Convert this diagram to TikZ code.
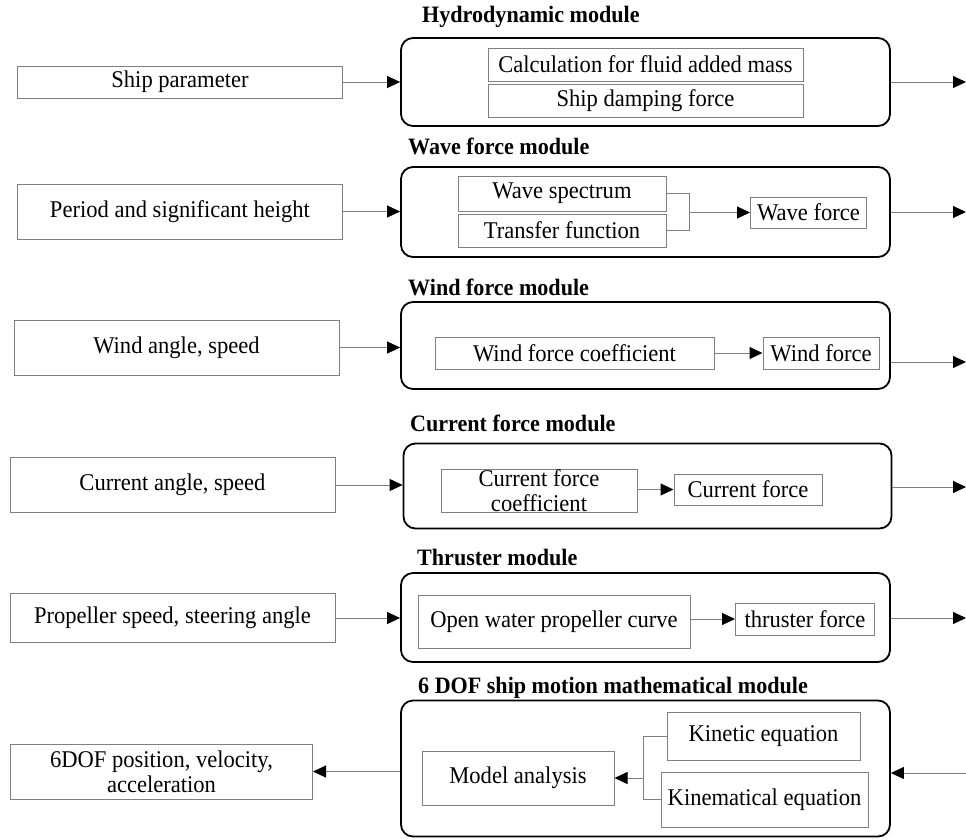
\documentclass[tikz,border=0pt]{standalone}
\usepackage{fontspec}
\setmainfont{Liberation Serif}[FakeStretch=0.94]
\usetikzlibrary{arrows.meta}
\definecolor{lgray}{HTML}{808080}
\begin{document}
\begin{tikzpicture}[x=1pt,y=-1pt,
  font=\fontsize{24}{25}\selectfont,
  ibox/.style={draw=lgray, line width=1pt, inner sep=0pt, align=center},
  obox/.style={draw=black, line width=1.8pt, rounded corners=12pt, inner sep=0pt},
  ttl/.style={anchor=west, inner sep=0pt, font=\fontsize{23.5}{25}\selectfont\bfseries},
  line/.style={draw=lgray, line width=1pt},
  conn/.style={line, -{Triangle[length=13pt,width=12pt,color=black]}}]
\useasboundingbox (0,0) rectangle (966,839);
% ---------- Hydrodynamic module ----------
\node[ttl] (t1) at (422,17) {Hydrodynamic module};
\node[obox, minimum width=489, minimum height=88] (hyd) at (645.5,82) {};
\node[ibox, minimum width=315, minimum height=33] (calc) at (645.5,64.5) {Calculation for fluid added mass};
\node[ibox, minimum width=315, minimum height=33] (damp) at (645.5,100.5) {Ship damping force};
\node[ibox, minimum width=325, minimum height=32] (sp) at (180,82) {Ship parameter};
\coordinate (o1) at (966,82);
\draw[conn] (sp.east) -- (hyd.west);
\draw[conn] (hyd.east) -- (o1);
% ---------- Wave force module ----------
\node[ttl] (t2) at (408,146) {Wave force module};
\node[obox, minimum width=489, minimum height=90] (wav) at (645.5,212) {};
\node[ibox, minimum width=208, minimum height=35] (spec) at (562,193.5) {Wave spectrum};
\node[ibox, minimum width=208, minimum height=33] (trans) at (562,230.5) {Transfer function};
\node[ibox, minimum width=116, minimum height=31] (wforce) at (808.5,212.5) {Wave force};
\node[ibox, minimum width=325, minimum height=55] (per) at (180,211.5) {Period and significant height};
\coordinate (j1) at (689,212.5);
\coordinate (o2) at (966,212);
\draw[line] (spec.east) -| (trans.east -| j1) -- (trans.east);
\draw[conn] (j1) -- (wforce.west);
\draw[conn] (per.east) -- (per.east -| wav.west);
\draw[conn] (o2 -| wav.east) -- (o2);
% ---------- Wind force module ----------
\node[ttl] (t3) at (408,287) {Wind force module};
\node[obox, minimum width=489, minimum height=87] (win) at (645.5,345.5) {};
\node[ibox, minimum width=279, minimum height=32] (wcoef) at (574.5,353) {Wind force coefficient};
\node[ibox, minimum width=116, minimum height=32] (windf) at (821,353) {Wind force};
\node[ibox, minimum width=325, minimum height=55] (wa) at (176.5,347.5) {Wind angle, speed};
\coordinate (o3) at (966,362);
\draw[conn] (wcoef.east) -- (windf.west);
\draw[conn] (wa.east) -- (wa.east -| win.west);
\draw[conn] (o3 -| win.east) -- (o3);
% ---------- Current force module ----------
\node[ttl] (t4) at (410,423) {Current force module};
\node[obox, minimum width=488, minimum height=85] (cur) at (647.5,486) {};
\node[ibox, minimum width=196, minimum height=43] (ccoef) at (539,490.5) {Current force\\coefficient};
\node[ibox, minimum width=148, minimum height=31] (cforce) at (748,489.5) {Current force};
\node[ibox, minimum width=325, minimum height=55] (ca) at (172.5,485) {Current angle, speed};
\coordinate (o4) at (966,487);
\draw[conn] (ccoef.east |- cforce.west) -- (cforce.west);
\draw[conn] (ca.east) -- (ca.east -| cur.west);
\draw[conn] (o4 -| cur.east) -- (o4);
% ---------- Thruster module ----------
\node[ttl] (t5) at (417,557) {Thruster module};
\node[obox, minimum width=489, minimum height=89] (thr) at (645.5,617.5) {};
\node[ibox, minimum width=272, minimum height=53] (owp) at (554,621.5) {Open water propeller curve};
\node[ibox, minimum width=139, minimum height=32] (tf) at (805,619) {thruster force};
\node[ibox, minimum width=325, minimum height=49] (ps) at (172.5,618) {Propeller speed, steering angle};
\coordinate (o5) at (966,618);
\draw[conn] (owp.east |- tf.west) -- (tf.west);
\draw[conn] (ps.east) -- (ps.east -| thr.west);
\draw[conn] (o5 -| thr.east) -- (o5);
% ---------- 6 DOF module ----------
\node[ttl] (t6) at (418,688) {6 DOF ship motion mathematical module};
\node[obox, minimum width=489, minimum height=136] (dof) at (645.5,768.5) {};
\node[ibox, minimum width=192, minimum height=54] (model) at (518,778) {Model analysis};
\node[ibox, minimum width=193, minimum height=48] (kin) at (763.5,736) {Kinetic equation};
\node[ibox, minimum width=207, minimum height=55] (kinem) at (764.5,799.5) {Kinematical equation};
\node[ibox, minimum width=302, minimum height=55] (out6) at (161.5,771.5) {6DOF position, velocity,\\acceleration};
\coordinate (j2) at (643,778);
\coordinate (i6) at (966,773);
\draw[line] (kin.west) -| (kinem.west -| j2) -- (kinem.west);
\draw[conn] (j2) -- (model.east);
\draw[conn] (i6) -- (i6 -| dof.east);
\draw[conn] (out6.east -| dof.west) -- (out6.east);
\end{tikzpicture}
\end{document}
